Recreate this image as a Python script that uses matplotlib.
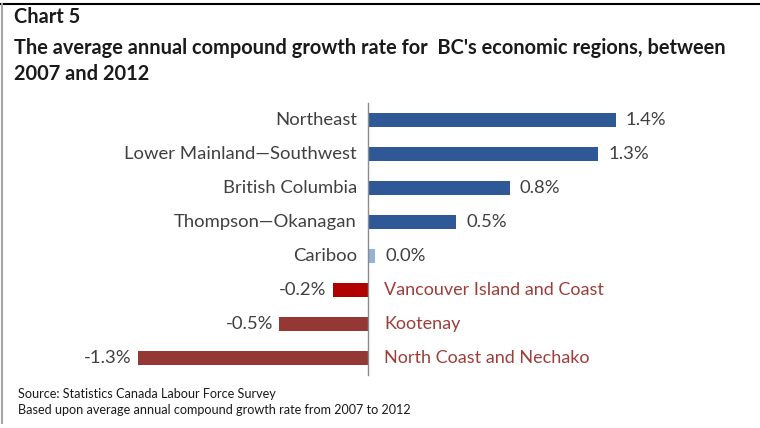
import matplotlib
matplotlib.use("Agg")
import matplotlib.pyplot as plt
from matplotlib.lines import Line2D

# Average annual compound growth rate (%) by economic region, 2007-2012
regions = [
    "Northeast",
    "Lower Mainland\u2014Southwest",
    "British Columbia",
    "Thompson\u2014Okanagan",
    "Cariboo",
    "Vancouver Island and Coast",
    "Kootenay",
    "North Coast and Nechako",
]
growth = [1.4, 1.3, 0.8, 0.5, 0.04, -0.2, -0.5, -1.3]
bar_colors = ["#2F5896", "#2F5896", "#2F5896", "#2F5896",
              "#95B3D7", "#B00000", "#953735", "#953735"]

chart_number = "Chart 5"
title_lines = [
    "The average annual compound growth rate for  BC's economic regions, between",
    "2007 and 2012",
]
notes = [
    "Source: Statistics Canada Labour Force Survey",
    "Based upon average annual compound growth rate from 2007 to 2012",
]

plt.rcParams['font.family'] = ['Lato', 'DejaVu Sans']

W, H = 760, 428
fig = plt.figure(figsize=(W / 100, H / 100), dpi=100)
fig.patch.set_facecolor("white")

PT = 0.72  # points per pixel at 100 dpi
px_per_unit = 177
zero_px = 368
top_px, bottom_px = 103, 375

ax = fig.add_axes([0, (H - bottom_px) / H, 1, (bottom_px - top_px) / H])
ax.set_xlim(-zero_px / px_per_unit, (W - zero_px) / px_per_unit)
ax.set_ylim(len(regions) - 0.5, -0.5)
ypos = list(range(len(regions)))
ax.barh(ypos, growth, height=0.4, color=bar_colors)

for s in ["top", "right", "bottom"]:
    ax.spines[s].set_visible(False)
ax.spines["left"].set_position(("data", 0))
ax.spines["left"].set_color("#8C8C8C")
ax.spines["left"].set_linewidth(1.0)
ax.set_xticks([])
ax.set_yticks([])
ax.patch.set_alpha(0)

label_size = 13.3
neg_label_size = 13.0
text_gray = "#404040"
neg_name_color = "#9E3E3B"

for y, name, v in zip(ypos, regions, growth):
    value_text = f"{v:.1f}%"
    if v >= 0:
        ax.annotate(name, (0, y), xytext=(-11 * PT, 0), textcoords="offset points",
                    ha="right", va="center", fontsize=label_size, color=text_gray)
        ax.annotate(value_text, (v, y), xytext=(10 * PT, 0), textcoords="offset points",
                    ha="left", va="center", fontsize=label_size, color=text_gray)
    else:
        ax.annotate(name, (0, y), xytext=(16 * PT, 0), textcoords="offset points",
                    ha="left", va="center", fontsize=neg_label_size, color=neg_name_color)
        ax.annotate(value_text, (v, y), xytext=(-6 * PT, 0), textcoords="offset points",
                    ha="right", va="center", fontsize=label_size, color=text_gray)

# Titles
title_size = 14.4
fig.text(14 / W, 1 - 23 / H, chart_number, fontsize=title_size, fontweight="bold",
         color="#1A1A1A", va="baseline", ha="left")
fig.text(14 / W, 1 - 54 / H, title_lines[0], fontsize=title_size, fontweight="bold",
         color="#1A1A1A", va="baseline", ha="left")
fig.text(14 / W, 1 - 80 / H, title_lines[1], fontsize=title_size, fontweight="bold",
         color="#1A1A1A", va="baseline", ha="left")

# Footnotes
fig.text(18 / W, 1 - 398 / H, notes[0], fontsize=9.1, color="#1A1A1A",
         va="baseline", ha="left")
fig.text(18 / W, 1 - 414 / H, notes[1], fontsize=9.1, color="#1A1A1A",
         va="baseline", ha="left")

# Frame
fig.add_artist(Line2D([0, 1], [1 - 4 / H, 1 - 4 / H], transform=fig.transFigure,
                      color="black", lw=1.5))
fig.add_artist(Line2D([1.5 / W, 1.5 / W], [1 - 4 / H, 1 - 423 / H],
                      transform=fig.transFigure, color="#A6A6A6", lw=1.5))

fig.savefig("out.png", dpi=100, facecolor="white")
